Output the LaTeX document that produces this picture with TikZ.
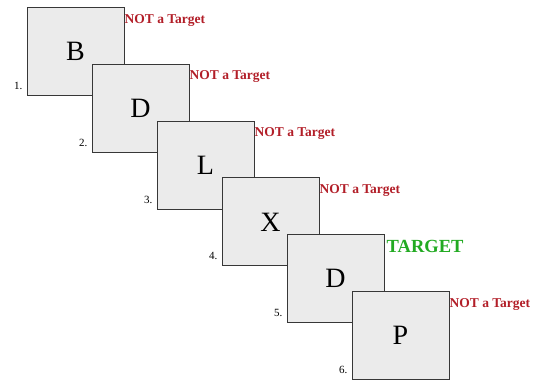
\documentclass[tikz,border=0pt]{standalone}
\usepackage{fontspec}
\setmainfont{Liberation Serif}
\usetikzlibrary{positioning}
\definecolor{boxgray}{RGB}{235,235,235}
\definecolor{edgegray}{RGB}{55,55,55}
\definecolor{notred}{RGB}{178,30,40}
\definecolor{hitgreen}{RGB}{34,170,34}

\begin{document}
\begin{tikzpicture}[x=1pt,y=-1pt]
\tikzstyle{stim}=[draw=edgegray,line width=1pt,fill=boxgray,minimum width=97pt,minimum height=88pt,inner sep=0pt,font=\fontsize{28}{28}\selectfont]
\tikzstyle{nota}=[anchor=north west,inner sep=0pt,text=notred,font=\fontsize{13.5}{14}\selectfont\bfseries]
\tikzstyle{hit}=[anchor=north west,inner sep=0pt,text=hitgreen,font=\fontsize{18.5}{19}\selectfont\bfseries]
\tikzstyle{num}=[anchor=east,inner sep=0pt,font=\fontsize{11}{11}\selectfont]
\useasboundingbox (0,0) rectangle (534,380);
\node [stim] (b1) at (75.5,51.5) {B};
\node [nota] (l1) at ([yshift=-7pt]b1.north east) {NOT a Target};
\node [num] (n1) at ([xshift=-4pt,yshift=10pt]b1.south west) {1.};
\node [stim] (b2) at (140.5,108.3) {D};
\node [nota] (l2) at ([yshift=-7pt]b2.north east) {NOT a Target};
\node [num] (n2) at ([xshift=-4pt,yshift=10pt]b2.south west) {2.};
\node [stim] (b3) at (205.5,165.1) {L};
\node [nota] (l3) at ([yshift=-7pt]b3.north east) {NOT a Target};
\node [num] (n3) at ([xshift=-4pt,yshift=10pt]b3.south west) {3.};
\node [stim] (b4) at (270.5,221.9) {X};
\node [nota] (l4) at ([yshift=-7pt]b4.north east) {NOT a Target};
\node [num] (n4) at ([xshift=-4pt,yshift=10pt]b4.south west) {4.};
\node [stim] (b5) at (335.5,278.7) {D};
\node [hit] (l5) at ([xshift=2pt,yshift=-6pt]b5.north east) {TARGET};
\node [num] (n5) at ([xshift=-4pt,yshift=10pt]b5.south west) {5.};
\node [stim] (b6) at (400.5,335.5) {P};
\node [nota] (l6) at ([yshift=-7pt]b6.north east) {NOT a Target};
\node [num] (n6) at ([xshift=-4pt,yshift=10pt]b6.south west) {6.};
\end{tikzpicture}
\end{document}
